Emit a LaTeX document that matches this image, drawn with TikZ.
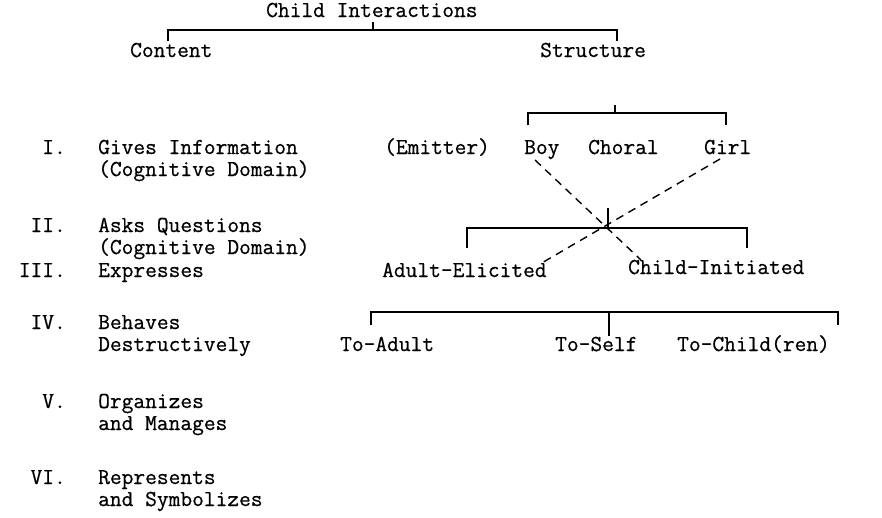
\documentclass[tikz,border=0pt]{standalone}
\usepackage{fontspec}
\newfontfamily\twfont{Latin Modern Mono}[FakeBold=0.6]
\begin{document}
\begin{tikzpicture}[x=1pt,y=-1pt,
  txt/.style={font=\twfont\fontsize{22.8}{26}\selectfont, inner sep=0pt, text height=11pt, text depth=3pt, anchor=west},
  num/.style={txt, anchor=east},
  br/.style={line width=1.4pt},
  dsh/.style={line width=1.4pt, dash pattern=on 8pt off 6pt}]
\useasboundingbox[fill=white] (0,0) rectangle (882,517);
% titles
\node[txt] (root) at (266,13) {Child Interactions};
\node[txt] (content) at (130,53) {Content};
\node[txt] (structure) at (540,53) {Structure};
% left column
\node[num] (n1) at (66,150) {I.};
\node[txt] (c1a) at (98,150) {Gives Information};
\node[txt] (c1b) at (98,172) {(Cognitive Domain)};
\node[num] (n2) at (66,228) {II.};
\node[txt] (c2a) at (98,228) {Asks Questions};
\node[txt] (c2b) at (98,250) {(Cognitive Domain)};
\node[num] (n3) at (66,273) {III.};
\node[txt] (c3a) at (98,273) {Expresses};
\node[num] (n4) at (66,325) {IV.};
\node[txt] (c4a) at (98,325) {Behaves};
\node[txt] (c4b) at (98,347) {Destructively};
\node[num] (n5) at (66,404) {V.};
\node[txt] (c5a) at (98,404) {Organizes};
\node[txt] (c5b) at (98,426) {and Manages};
\node[num] (n6) at (66,480) {VI.};
\node[txt] (c6a) at (98,480) {Represents};
\node[txt] (c6b) at (98,502) {and Symbolizes};
% structure
\node[txt] (emitter) at (384,150) {(Emitter)};
\node[txt] (boy) at (524,150) {Boy};
\node[txt] (choral) at (588,150) {Choral};
\node[txt] (girl) at (704,150) {Girl};
\node[txt] (adult) at (382,273) {Adult-Elicited};
\node[txt] (child) at (628,270) {Child-Initiated};
\node[txt] (toadult) at (340,347) {To-Adult};
\node[txt] (toself) at (555,347) {To-Self};
\node[txt] (tochild) at (677,347) {To-Child(ren)};
% brackets
\draw[br] (168,41) -- (168,30) -- (617,30) -- (617,41);
\draw[br] (373,22) -- (373,30);
\draw[br] (528,125) -- (528,113) -- (726,113) -- (726,125);
\draw[br] (615,105) -- (615,113);
\draw[br] (467,248) -- (467,228) -- (747,228) -- (747,248);
\draw[br] (608,208) -- (608,228);
\draw[br] (371,325) -- (371,312) -- (838,312) -- (838,325);
\draw[br] (609,312) -- (609,336);
% dashed crossing lines
\coordinate (boyend) at (535,160);
\coordinate (girlend) at (720,159);
\coordinate (ciend) at (641,260);
\coordinate (aeend) at (540,264);
\draw[dsh] (boyend) -- (ciend);
\draw[dsh] (girlend) -- (aeend);
\end{tikzpicture}
\end{document}
